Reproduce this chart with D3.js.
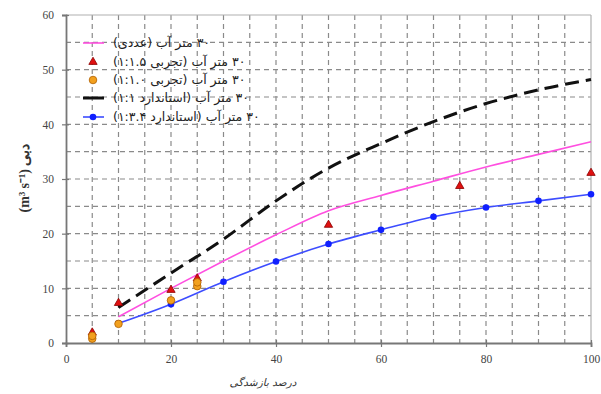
<!DOCTYPE html>
<html>
<head>
<meta charset="utf-8">
<script src="https://cdn.jsdelivr.net/npm/d3@7"></script>
<style>
  body { margin: 0; background: #fff; }
  svg { display: block; }
</style>
</head>
<body>
<div id="chart"></div>
<script>
// values
const xTicks = [0, 20, 40, 60, 80, 100];
const yTicks = [0, 10, 20, 30, 40, 50, 60];

const numX = [10, 20, 30, 40, 50, 60, 70, 80, 90, 100];
const numY = [4.8, 10.0, 15.0, 19.8, 24.2, 27.0, 29.6, 32.2, 34.5, 36.8];

const stdHiX = [10, 20, 30, 40, 50, 60, 70, 80, 90, 100];
const stdHiY = [6.5, 12.8, 19.0, 26.0, 32.0, 36.5, 40.5, 43.8, 46.3, 48.2];

const stdLoX = [10, 20, 30, 40, 50, 60, 70, 80, 90, 100];
const stdLoY = [3.6, 7.1, 11.2, 14.9, 18.1, 20.7, 23.1, 24.8, 26.0, 27.2];

const exp15X = [5, 10, 20, 25, 50, 75, 100];
const exp15Y = [1.9, 7.3, 9.7, 11.8, 21.6, 28.7, 31.1];

const exp10X = [5, 5, 10, 20, 25, 25];
const exp10Y = [0.8, 1.3, 3.5, 7.8, 10.4, 11.1];

const legendLabels = [
  '۳۰ متر آب (عددی)',
  '۳۰ متر آب (تجربی ۱:۱.۵)',
  '۳۰ متر آب (تجربی ۱:۱.۰)',
  '۳۰ متر آب (استاندارد ۱:۱)',
  '۳۰ متر آب (استاندارد ۱:۳.۴)'
];

const width = 601, height = 394;
const margin = { top: 15, right: 10, bottom: 51, left: 66 };
const w = width - margin.left - margin.right;
const h = height - margin.top - margin.bottom;

const svg = d3.select('#chart').append('svg')
  .attr('width', width)
  .attr('height', height);

const g = svg.append('g')
  .attr('transform', 'translate(' + margin.left + ',' + margin.top + ')');

const x = d3.scaleLinear().domain([0, 100]).range([0, w]);
const y = d3.scaleLinear().domain([0, 60]).range([h, 0]);

// dashed grid every 5 units
const gridV = d3.range(5, 100, 5);
const gridH = d3.range(5, 60, 5);
g.append('g').selectAll('line').data(gridV).join('line')
  .attr('x1', d => x(d)).attr('x2', d => x(d))
  .attr('y1', 0).attr('y2', h)
  .attr('stroke', '#8a8a8a').attr('stroke-width', 1.2)
  .attr('stroke-dasharray', '5,4');
g.append('g').selectAll('line').data(gridH).join('line')
  .attr('y1', d => y(d)).attr('y2', d => y(d))
  .attr('x1', 0).attr('x2', w)
  .attr('stroke', '#8a8a8a').attr('stroke-width', 1.2)
  .attr('stroke-dasharray', '5,4');

// plot frame top / right
g.append('line').attr('x1', 0).attr('x2', w).attr('y1', 0).attr('y2', 0)
  .attr('stroke', '#b0b0b0').attr('stroke-width', 1.2);
g.append('line').attr('x1', w).attr('x2', w).attr('y1', 0).attr('y2', h)
  .attr('stroke', '#b0b0b0').attr('stroke-width', 1.2);

// axes
const xAxis = g.append('g')
  .attr('transform', 'translate(0,' + h + ')')
  .call(d3.axisBottom(x).tickValues(xTicks).tickSize(4).tickPadding(8));
const yAxis = g.append('g')
  .call(d3.axisLeft(y).tickValues(yTicks).tickSize(4).tickPadding(8));

[xAxis, yAxis].forEach(a => {
  a.select('.domain').attr('stroke', '#777').attr('stroke-width', 1.8);
  a.selectAll('.tick line').attr('stroke', '#777').attr('stroke-width', 1.2);
  a.selectAll('.tick text')
    .attr('font-family', '"Liberation Serif", serif')
    .attr('font-size', 11.5)
    .attr('fill', '#444');
});
// ticks crossing the axes
xAxis.selectAll('.tick line').attr('y1', -3);
yAxis.selectAll('.tick line').attr('x1', 3);

// lines
const line = d3.line().curve(d3.curveMonotoneX)
  .x(d => x(d[0])).y(d => y(d[1]));

g.append('path')
  .datum(d3.zip(stdHiX, stdHiY))
  .attr('d', line)
  .attr('fill', 'none')
  .attr('stroke', '#111')
  .attr('stroke-width', 3)
  .attr('stroke-dasharray', '14,7');

g.append('path')
  .datum(d3.zip(numX, numY))
  .attr('d', line)
  .attr('fill', 'none')
  .attr('stroke', '#ff4fe0')
  .attr('stroke-width', 1.6);

g.append('path')
  .datum(d3.zip(stdLoX, stdLoY))
  .attr('d', line)
  .attr('fill', 'none')
  .attr('stroke', '#3d4dff')
  .attr('stroke-width', 1.6);

g.append('g').selectAll('circle').data(d3.zip(stdLoX, stdLoY)).join('circle')
  .attr('cx', d => x(d[0])).attr('cy', d => y(d[1]))
  .attr('r', 3.3)
  .attr('fill', '#1020ff');

const tri = d3.symbol().type(d3.symbolTriangle).size(30);
g.append('g').selectAll('path').data(d3.zip(exp15X, exp15Y)).join('path')
  .attr('transform', d => 'translate(' + x(d[0]) + ',' + y(d[1]) + ')')
  .attr('d', tri)
  .attr('fill', '#e01010')
  .attr('stroke', '#8a0000')
  .attr('stroke-width', 0.8);

g.append('g').selectAll('circle').data(d3.zip(exp10X, exp10Y)).join('circle')
  .attr('cx', d => x(d[0])).attr('cy', d => y(d[1]))
  .attr('r', 3.8)
  .attr('fill', '#f2a01e')
  .attr('stroke', '#b06000')
  .attr('stroke-width', 0.8);

// legend
const legend = svg.append('g');
const rowY = [43, 62, 80, 98, 117];
const lx1 = 83, lx2 = 104, lcx = 93, tx = 113;

legend.append('line').attr('x1', lx1).attr('x2', lx2).attr('y1', rowY[0]).attr('y2', rowY[0])
  .attr('stroke', '#ff4fe0').attr('stroke-width', 1.6);
legend.append('path').attr('transform', 'translate(' + lcx + ',' + rowY[1] + ')')
  .attr('d', tri).attr('fill', '#e01010').attr('stroke', '#8a0000').attr('stroke-width', 0.8);
legend.append('circle').attr('cx', lcx).attr('cy', rowY[2]).attr('r', 3.8)
  .attr('fill', '#f2a01e').attr('stroke', '#b06000').attr('stroke-width', 0.8);
legend.append('line').attr('x1', lx1).attr('x2', lx2).attr('y1', rowY[3]).attr('y2', rowY[3])
  .attr('stroke', '#111').attr('stroke-width', 3);
legend.append('line').attr('x1', lx1).attr('x2', lx2).attr('y1', rowY[4]).attr('y2', rowY[4])
  .attr('stroke', '#3d4dff').attr('stroke-width', 1.6);
legend.append('circle').attr('cx', lcx).attr('cy', rowY[4]).attr('r', 3.3).attr('fill', '#1020ff');

// right-to-left labels, left edge at tx
legend.selectAll('text').data(legendLabels).join('text')
  .attr('x', tx)
  .attr('y', (d, i) => rowY[i] + 4)
  .attr('direction', 'rtl')
  .attr('text-anchor', 'end')
  .attr('font-family', '"DejaVu Sans", sans-serif')
  .attr('font-size', 12.5)
  .attr('fill', '#222')
  .text(d => d);

// axis titles
svg.append('text')
  .attr('x', 263).attr('y', 386)
  .attr('direction', 'rtl')
  .attr('text-anchor', 'middle')
  .attr('font-family', '"DejaVu Sans", sans-serif')
  .attr('font-size', 10.5)
  .attr('font-style', 'italic')
  .attr('fill', '#333')
  .text('درصد بازشدگی');

svg.append('text')
  .attr('transform', 'translate(29,178) rotate(-90)')
  .attr('text-anchor', 'middle')
  .attr('font-family', '"Liberation Serif", serif')
  .attr('font-size', 14)
  .attr('font-weight', 'bold')
  .attr('fill', '#333')
  .text('(m³ s⁻¹) دبی');
</script>
</body>
</html>
